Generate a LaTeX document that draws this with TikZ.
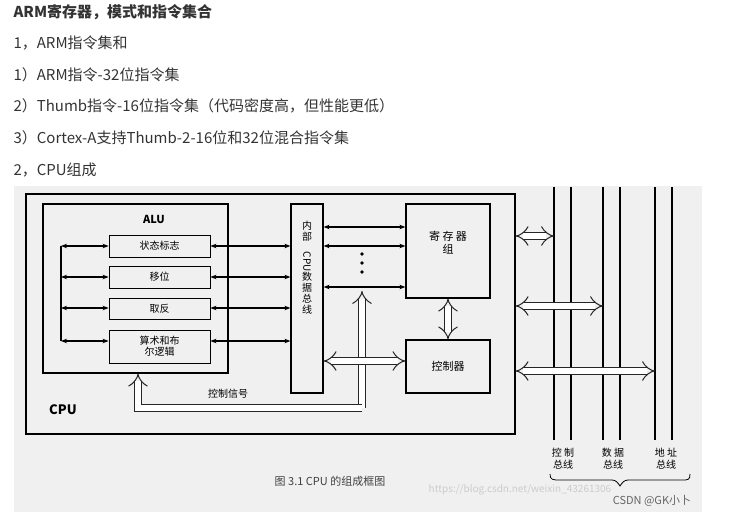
\documentclass[tikz,border=0pt]{standalone}
\usepackage{fontspec}
\setmainfont{Noto Sans CJK SC}
\usetikzlibrary{arrows.meta}
\begin{document}
\begin{tikzpicture}[x=1pt,y=-1pt,
  hdr/.style={anchor=west,text=black!80,font=\fontsize{15}{17}\selectfont},
  box/.style={draw,line width=1.2pt,minimum width=#1},
  sub/.style={draw,line width=0.8pt,minimum width=101pt,font=\fontsize{10}{11}\selectfont,align=center,inner sep=0pt},
  lab/.style={font=\fontsize{11}{13}\selectfont,align=center},
  arr/.style={line width=1.6pt,{Stealth[length=6pt]}-{Stealth[length=6pt]}},
  hollow/.style={double=white,double distance=6pt,line width=1pt,draw=black!85},
  hh/.tip={Implies[scale=1.6]},
  bus/.style={line width=1.2pt}]
\useasboundingbox (0,0) rectangle (731,521);
\fill[black!6] (14,186) rectangle (702,512);
% header
\node[hdr,font=\bfseries\fontsize{15}{17}\selectfont] (h0) at (10,12) {ARM寄存器，模式和指令集合};
\node[hdr] (h1) at (10,43) {1，ARM指令集和};
\node[hdr] (h2) at (10,75) {1）ARM指令-32位指令集};
\node[hdr] (h3) at (10,106) {2）Thumb指令-16位指令集（代码密度高，但性能更低）};
\node[hdr] (h4) at (10,138) {3）Cortex-A支持Thumb-2-16位和32位混合指令集};
\node[hdr] (h5) at (10,170) {2，CPU组成};
% boxes
\node[box=489pt,minimum height=240pt] (cpu) at (270.5,314) {};
\node[box=185pt,minimum height=169pt] (alu) at (135.5,288.5) {};
\node[lab,font=\bfseries\fontsize{11}{13}\selectfont] (alut) at (154,219) {ALU};
\node[lab,font=\bfseries\fontsize{13}{15}\selectfont] (cput) at (63,410) {CPU};
\node[sub,minimum height=22pt] (s1) at (159.5,246) {状态标志};
\node[sub,minimum height=22pt] (s2) at (159.5,277) {移位};
\node[sub,minimum height=21pt] (s3) at (159.5,308.5) {取反};
\node[sub,minimum height=33pt] (s4) at (159.5,346.5) {算术和布\\尔逻辑};
\node[box=32pt,minimum height=189pt] (ib) at (307,298.5) {};
\node[lab,font=\fontsize{10}{11}\selectfont,inner sep=0pt] (ibt) at (307,268) {内\\部\\\rotatebox{-90}{CPU}\\数\\据\\总\\线};
\node[box=84pt,minimum height=94pt] (reg) at (448,251) {};
\node[lab] (regt) at (448,243) {寄 存 器\\组};
\node[box=84pt,minimum height=53pt,lab] (ctl) at (448,366.5) {控制器};
% left arrows
\coordinate (l1) at (61,246); \coordinate (l4) at (61,341);
\draw[line width=1.6pt] (l1) -- (l4);
\foreach \n/\y in {s1/246,s2/277,s3/308,s4/341}{
  \draw[arr] (61,\y) -- (\n.west |- 0,\y);
  \draw[arr] (\n.east |- 0,\y) -- (ib.west |- 0,\y);
}
\foreach \y in {227,246,287}{ \draw[arr] (ib.east |- 0,\y) -- (reg.west |- 0,\y); }
\foreach \y in {254,263,272}{ \fill (362,\y) circle (1.8pt); }
% hollow arrows
\draw[hollow,{hh}-{hh}] (reg.south) -- (ctl.north);
\coordinate (cj) at (362,408);
\draw[hollow,-{hh}] (cj) -- (362,291);
\draw[hollow,-{hh}] (cj) -- (138,408) -- (alu.south -| 138,0);
\draw[hollow,{hh}-{hh}] (ib.east |- 0,361) -- (ctl.west |- 0,361);
\node[lab,font=\fontsize{10}{11}\selectfont] (sig) at (228,394) {控制信号};
% buses
\foreach \x/\nm in {554/b1,571/b2,603/b3,620/b4,655/b5,672/b6}{
  \draw[bus] (\x,187) coordinate (\nm) -- (\x,440);
}
\draw[hollow,{hh}-{hh}] (cpu.east |- 0,236) -- (b1 |- 0,236);
\draw[hollow,{hh}-{hh}] (cpu.east |- 0,306) -- (b3 |- 0,306);
\draw[hollow,{hh}-{hh}] (cpu.east |- 0,371) -- (b5 |- 0,371);
\node[lab,font=\fontsize{10}{12}\selectfont] (bl1) at (563,459) {控 制\\总线};
\node[lab,font=\fontsize{10}{12}\selectfont] (bl2) at (613,459) {数 据\\总线};
\node[lab,font=\fontsize{10}{12}\selectfont] (bl3) at (666,459) {地 址\\总线};
\draw[line width=0.8pt] (550,474) .. controls (550,480) and (553,480) .. (560,480) -- (612,480) .. controls (616,480) and (618,483) .. (620,486) .. controls (622,483) and (624,480) .. (628,480) -- (682,480) .. controls (688,480) and (690,480) .. (690,474);
\node[lab,font=\fontsize{11}{13}\selectfont,text=black!75] (cap) at (330,481) {图 3.1 CPU 的组成框图};
\node[lab,font=\fontsize{10}{12}\selectfont,text=black!20] (wm) at (520,490) {https://blog.csdn.net/weixin\_43261306};
\node[lab,font=\fontsize{11}{13}\selectfont,text=black!60] (wm2) at (652,501) {CSDN @GK小卜};
\end{tikzpicture}
\end{document}
